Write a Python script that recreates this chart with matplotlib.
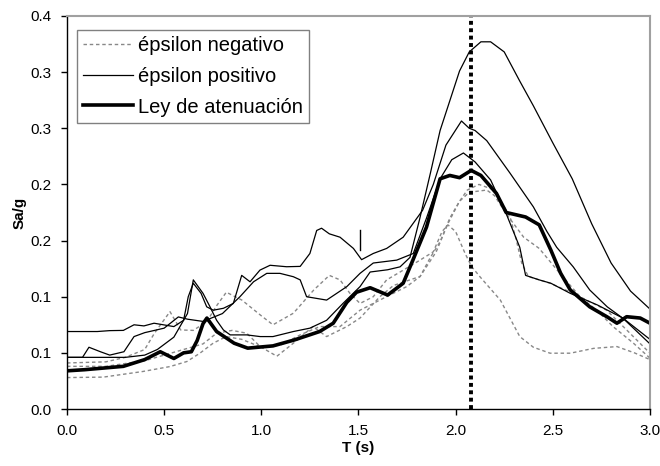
import matplotlib
matplotlib.use("Agg")
import matplotlib.pyplot as plt
import numpy as np

plt.rcParams['font.family'] = ['Liberation Sans', 'DejaVu Sans']

# ---------------- data ----------------
ley_T = [0, 0.09, 0.19, 0.29, 0.4, 0.48, 0.55, 0.6, 0.64, 0.67, 0.7, 0.72, 0.77, 0.86, 0.93,
         1.06, 1.17, 1.3, 1.37, 1.44, 1.49, 1.56, 1.65, 1.73, 1.78, 1.85, 1.92, 1.97, 2.02,
         2.08, 2.13, 2.21, 2.26, 2.36, 2.43, 2.49, 2.54, 2.59, 2.69, 2.78, 2.83, 2.88, 2.95, 3.0]
ley_v = [0.034, 0.035, 0.0365, 0.038, 0.044, 0.051, 0.045, 0.050, 0.051, 0.061, 0.076, 0.081,
         0.069, 0.0586, 0.0542, 0.0562, 0.0615, 0.069, 0.0764, 0.095, 0.104, 0.108, 0.1015,
         0.112, 0.1326, 0.162, 0.205, 0.208, 0.206, 0.2125, 0.208, 0.192, 0.175, 0.171, 0.164,
         0.1415, 0.121, 0.106, 0.091, 0.082, 0.0764, 0.0822, 0.081, 0.0764]

pos1_T = [0, 0.3, 0.4, 0.465, 0.55, 0.62, 0.65, 0.70, 0.736, 0.77, 0.805, 0.84, 0.925, 0.994,
          1.06, 1.165, 1.25, 1.336, 1.42, 1.508, 1.56, 1.65, 1.714, 1.765, 1.816, 1.87, 1.92,
          2.02, 2.07, 2.13, 2.18, 2.25, 2.33, 2.4, 2.5, 2.6, 2.7, 2.8, 2.9, 3.0]
pos1_v = [0.046, 0.046, 0.048, 0.053, 0.064, 0.085, 0.115, 0.103, 0.091, 0.079, 0.0704, 0.066,
          0.066, 0.0645, 0.0645, 0.069, 0.072, 0.079, 0.094, 0.109, 0.122, 0.124, 0.1266, 0.135,
          0.17, 0.21, 0.248, 0.301, 0.318, 0.327, 0.327, 0.318, 0.292, 0.27, 0.237, 0.205,
          0.165, 0.13, 0.105, 0.089]

pos2_T = [0, 0.156, 0.22, 0.29, 0.345, 0.396, 0.448, 0.55, 0.60, 0.624, 0.65, 0.69, 0.719,
          0.753, 0.805, 0.856, 0.899, 0.942, 0.993, 1.045, 1.13, 1.2, 1.25, 1.285, 1.31, 1.35,
          1.405, 1.474, 1.516, 1.576, 1.645, 1.73, 1.83, 1.885, 1.95, 2.03, 2.07, 2.1, 2.16,
          2.28, 2.4, 2.47, 2.52, 2.605, 2.69, 2.78, 2.875, 3.0]
pos2_v = [0.069, 0.069, 0.0698, 0.07, 0.075, 0.074, 0.0764, 0.0734, 0.079, 0.1, 0.112, 0.103,
          0.091, 0.088, 0.0897, 0.094, 0.119, 0.1133, 0.1237, 0.128, 0.1267, 0.127, 0.1385,
          0.159, 0.161, 0.156, 0.153, 0.143, 0.133, 0.1385, 0.143, 0.153, 0.177, 0.2, 0.235,
          0.2565, 0.25, 0.248, 0.239, 0.21, 0.18, 0.158, 0.144, 0.1266, 0.106, 0.091, 0.079, 0.062]

pos3_T = [0, 0.08, 0.113, 0.172, 0.22, 0.293, 0.345, 0.4, 0.45, 0.5, 0.573, 0.62, 0.7, 0.8,
          0.89, 0.96, 1.028, 1.096, 1.165, 1.2, 1.233, 1.336, 1.44, 1.508, 1.576, 1.697, 1.782,
          1.85, 1.92, 1.98, 2.04, 2.1, 2.18, 2.26, 2.33, 2.36, 2.43, 2.49, 2.59, 2.73, 2.86, 3.0]
pos3_v = [0.046, 0.046, 0.055, 0.051, 0.048, 0.051, 0.0645, 0.068, 0.07, 0.072, 0.082, 0.08,
          0.078, 0.085, 0.1, 0.1133, 0.1208, 0.1208, 0.1178, 0.115, 0.1, 0.097, 0.109, 0.1208,
          0.13, 0.1326, 0.1385, 0.17, 0.205, 0.222, 0.228, 0.22, 0.204, 0.174, 0.144, 0.119,
          0.115, 0.112, 0.103, 0.0926, 0.081, 0.058]

neg1_T = [0, 0.2, 0.3, 0.4, 0.45, 0.53, 0.585, 0.65, 0.72, 0.77, 0.82, 0.9, 1.0, 1.06, 1.165,
          1.27, 1.35, 1.405, 1.456, 1.508, 1.576, 1.645, 1.714, 1.817, 1.885, 1.93, 1.96, 2.0,
          2.05, 2.083, 2.125, 2.23, 2.33, 2.4, 2.486, 2.59, 2.71, 2.83, 2.92, 3.0]
neg1_v = [0.041, 0.042, 0.046, 0.053, 0.0675, 0.0867, 0.0704, 0.07, 0.078, 0.092, 0.104, 0.097,
          0.083, 0.075, 0.0853, 0.106, 0.119, 0.115, 0.103, 0.094, 0.100, 0.115, 0.122, 0.1326,
          0.140, 0.158, 0.164, 0.158, 0.138, 0.1267, 0.1178, 0.097, 0.0645, 0.055, 0.0497,
          0.0497, 0.054, 0.0556, 0.05, 0.044]

neg2_T = [0, 0.2, 0.4, 0.5, 0.6, 0.7, 0.77, 0.85, 0.925, 0.994, 1.08, 1.165, 1.266, 1.336,
          1.44, 1.508, 1.61, 1.68, 1.765, 1.817, 1.87, 1.92, 1.97, 2.02, 2.07, 2.16, 2.2, 2.26,
          2.35, 2.43, 2.537, 2.64, 2.726, 2.81, 2.915, 3.0]
neg2_v = [0.038, 0.038, 0.043, 0.048, 0.053, 0.058, 0.0675, 0.07, 0.0675, 0.0556, 0.047, 0.0586,
          0.0734, 0.0645, 0.0734, 0.081, 0.1, 0.11, 0.115, 0.118, 0.135, 0.149, 0.17, 0.185,
          0.193, 0.195, 0.19, 0.174, 0.153, 0.143, 0.1207, 0.100, 0.088, 0.0734, 0.0586, 0.0453]

neg3_T = [0, 0.187, 0.39, 0.53, 0.617, 0.684, 0.752, 0.82, 0.9, 1.0, 1.1, 1.2, 1.3, 1.405, 1.508,
          1.628, 1.748, 1.817, 1.9, 1.96, 2.02, 2.06, 2.12, 2.2, 2.28, 2.31, 2.34, 2.374, 2.486,
          2.605, 2.777, 2.88, 3.0]
neg3_v = [0.028, 0.0284, 0.0334, 0.0378, 0.0423, 0.0497, 0.0586, 0.0645, 0.062, 0.055, 0.057,
          0.066, 0.0734, 0.0734, 0.088, 0.0986, 0.109, 0.118, 0.14, 0.165, 0.185, 0.195, 0.2,
          0.195, 0.171, 0.152, 0.13, 0.118, 0.112, 0.103, 0.088, 0.0704, 0.0497]

period_line_T = 2.08
mark_T = 1.508
mark_v = [0.142, 0.159]

yticks = [0.0, 0.05, 0.10, 0.15, 0.20, 0.25, 0.30, 0.35]
ytick_labels = ['0.0', '0.1', '0.1', '0.2', '0.2', '0.3', '0.3', '0.4']
xticks = [0.0, 0.5, 1.0, 1.5, 2.0, 2.5, 3.0]
xtick_labels = ['0.0', '0.5', '1.0', '1.5', '2.0', '2.5', '3.0']

# ---------------- plot ----------------
fig = plt.figure(figsize=(6.6, 4.66), dpi=100)
ax = fig.add_axes([0.1015, 0.1223, 0.8833, 0.8434])

neg_style = dict(color='#888888', lw=1.0, linestyle=(0, (2.5, 2)))
pos_style = dict(color='black', lw=0.9)

ax.plot(neg1_T, neg1_v, label='épsilon negativo', **neg_style)
ax.plot(neg2_T, neg2_v, **neg_style)
ax.plot(neg3_T, neg3_v, **neg_style)
ax.plot(pos1_T, pos1_v, label='épsilon positivo', **pos_style)
ax.plot(pos2_T, pos2_v, **pos_style)
ax.plot(pos3_T, pos3_v, **pos_style)
ax.plot(ley_T, ley_v, color='black', lw=2.6, label='Ley de atenuación')

ax.plot([mark_T, mark_T], mark_v, color='black', lw=1.0)
ax.axvline(period_line_T, color='black', lw=2.8, linestyle=(0, (1, 0.9)))

ax.set_xlim(0, 3)
ax.set_ylim(0, 0.35)
ax.set_xticks(xticks)
ax.set_xticklabels(xtick_labels)
ax.set_yticks(yticks)
ax.set_yticklabels(ytick_labels)
ax.tick_params(direction='out', length=4, width=1, labelsize=11, colors='black')
ax.tick_params(axis='x', pad=7)
ax.tick_params(axis='y', pad=7)

for s in ['left', 'bottom']:
    ax.spines[s].set_color('black')
    ax.spines[s].set_linewidth(1.0)
for s in ['top', 'right']:
    ax.spines[s].set_color('#a0a0a0')
    ax.spines[s].set_linewidth(1.5)

ax.set_xlabel('T (s)', fontsize=11, fontweight='bold', labelpad=2)
ax.set_ylabel('Sa/g', fontsize=11, fontweight='bold', labelpad=3)

leg = ax.legend(loc='upper left', bbox_to_anchor=(0.0166, 0.964), borderaxespad=0,
                fontsize=14.5, frameon=True, fancybox=False, handlelength=2.5,
                handletextpad=0.25, borderpad=0.3, labelspacing=0.58)
leg.get_frame().set_edgecolor('#606060')
leg.get_frame().set_linewidth(1.0)

fig.savefig('out.png', dpi=100)
